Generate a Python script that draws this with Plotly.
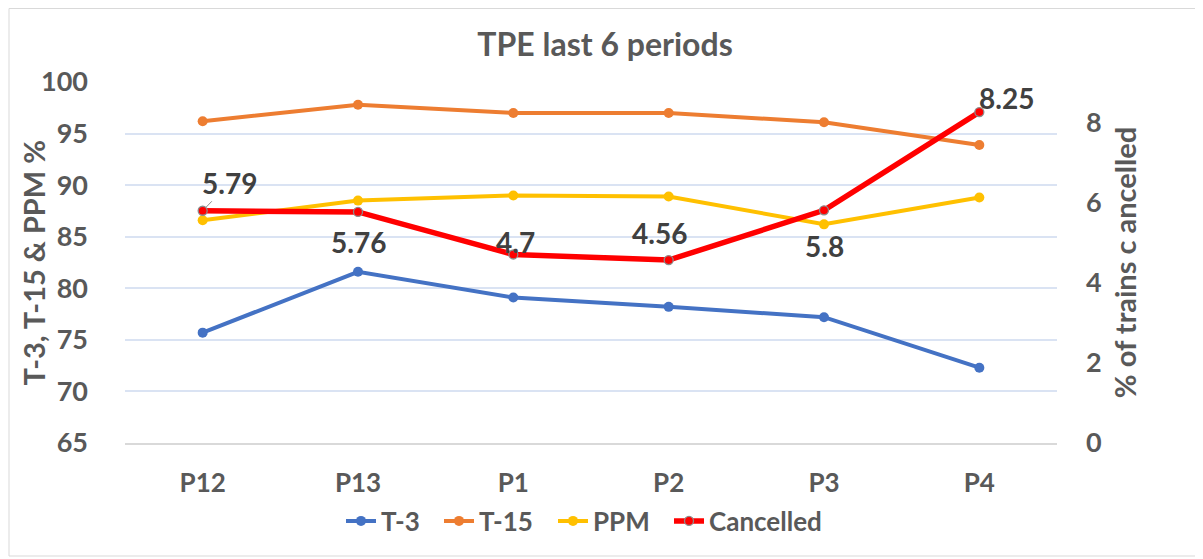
import plotly.graph_objects as go

categories = ["P12", "P13", "P1", "P2", "P3", "P4"]
t3 = [75.7, 81.6, 79.1, 78.2, 77.2, 72.3]
t15 = [96.2, 97.8, 97.0, 97.0, 96.1, 93.9]
ppm = [86.6, 88.5, 89.0, 88.9, 86.2, 88.8]
cancelled = [5.79, 5.76, 4.7, 4.56, 5.8, 8.25]

FONT = "Lato"
GREY = "#595959"
LABEL = "#404040"

fig = go.Figure()
fig.add_trace(go.Scatter(x=categories, y=t3, name="T-3", mode="lines+markers",
                         legend="legend", showlegend=True,
                         line=dict(color="#4472C4", width=4),
                         marker=dict(size=10, color="#4472C4")))
fig.add_trace(go.Scatter(x=categories, y=t15, name="T-15", mode="lines+markers",
                         legend="legend2", showlegend=True,
                         line=dict(color="#ED7D31", width=4),
                         marker=dict(size=10, color="#ED7D31")))
fig.add_trace(go.Scatter(x=categories, y=ppm, name="PPM", mode="lines+markers",
                         legend="legend3", showlegend=True,
                         line=dict(color="#FFC000", width=4),
                         marker=dict(size=10, color="#FFC000")))
fig.add_trace(go.Scatter(x=categories, y=cancelled, name="Cancelled", mode="lines+markers",
                         yaxis="y2", legend="legend4", showlegend=True,
                         line=dict(color="#FF0000", width=5.5),
                         marker=dict(size=9, color="#FF0000",
                                     line=dict(color="#8c8c8c", width=1.3))))

# data label offsets (pixels) for the Cancelled series
label_offsets = [(27, 28), (0, -30), (2, 12), (-9, 27), (0, -36), (27, 14)]
label_font = dict(family=FONT, size=28, color=LABEL, weight="bold")
for i, (c, v) in enumerate(zip(categories, cancelled)):
    dx, dy = label_offsets[i]
    if i == 0:
        fig.add_annotation(x=c, y=v, xref="x", yref="y2", text=f"{v:g}",
                           showarrow=True, ax=dx, ay=-dy, arrowhead=0,
                           arrowwidth=1, arrowcolor="#8c8c8c", standoff=5,
                           font=label_font)
    else:
        fig.add_annotation(x=c, y=v, xref="x", yref="y2", text=f"{v:g}",
                           showarrow=False, xshift=dx, yshift=dy, font=label_font)

# page offset of the figure inside the browser window
OX, OY = 8, 8
W, H = 1195, 551
L = 125 - OX
T = 82 - OY
R = W - (1057 - OX)
B = H - (443 - OY)
pw, ph = W - L - R, H - T - B

def px(xp):
    return (xp - OX - L) / pw

def py(yp):
    return (H - B - (yp - OY)) / ph

# outer chart frame
fig.add_shape(type="rect", xref="paper", yref="paper",
              x0=px(9), x1=px(1201), y0=py(556), y1=py(8.5),
              line=dict(color="#d9d9d9", width=1), layer="below")

# left axis title
fig.add_annotation(text="T-3, T-15 & PPM %", xref="paper", yref="paper",
                   x=px(33), y=0.5, xanchor="center", yanchor="middle",
                   textangle=-90, showarrow=False,
                   font=dict(family=FONT, size=29, color=GREY, weight="bold"))

legend_font = dict(size=26, color=GREY, weight="bold")
legend_starts = [348, 446, 560, 676]

def legend_at(xp):
    return dict(orientation="h", x=px(xp - 7), xanchor="left", y=py(521),
                yanchor="middle", font=legend_font, itemwidth=30,
                bgcolor="rgba(0,0,0,0)", visible=True)

tick_font = dict(size=27, color=GREY, weight="bold")
fig.update_layout(
    width=W, height=H,
    showlegend=True,
    margin=dict(l=L, r=R, t=T, b=B),
    paper_bgcolor="white", plot_bgcolor="white",
    font=dict(family=FONT, color=GREY, size=24, weight="bold"),
    title=dict(text="TPE last 6 periods", x=(605 - OX) / W, xref="container",
               xanchor="center", y=1 - (45 - OY) / H, yanchor="middle",
               font=dict(family=FONT, size=32, color=GREY, weight="bold")),
    xaxis=dict(type="category", range=[-0.5, 5.5], showgrid=False,
               showline=True, linecolor="#d9d9d9", linewidth=2,
               ticks="", tickfont=dict(size=26, color=GREY, weight="bold"),
               ticklabelstandoff=16),
    yaxis=dict(range=[65, 100], dtick=5, showgrid=True, gridcolor="#dae3f3",
               gridwidth=1.5, zeroline=False, ticks="",
               tickfont=tick_font, ticklabelstandoff=36),
    yaxis2=dict(overlaying="y", side="right", range=[0, 9], tickvals=[0, 2, 4, 6, 8],
                showgrid=False, zeroline=False, ticks="",
                tickfont=tick_font, ticklabelstandoff=28,
                title=dict(text="% of trains c ancelled", standoff=15,
                           font=dict(size=29, color=GREY, weight="bold"))),
    legend=legend_at(legend_starts[0]),
    legend2=legend_at(legend_starts[1]),
    legend3=legend_at(legend_starts[2]),
    legend4=legend_at(legend_starts[3]),
)

fig.write_html("out.html")
